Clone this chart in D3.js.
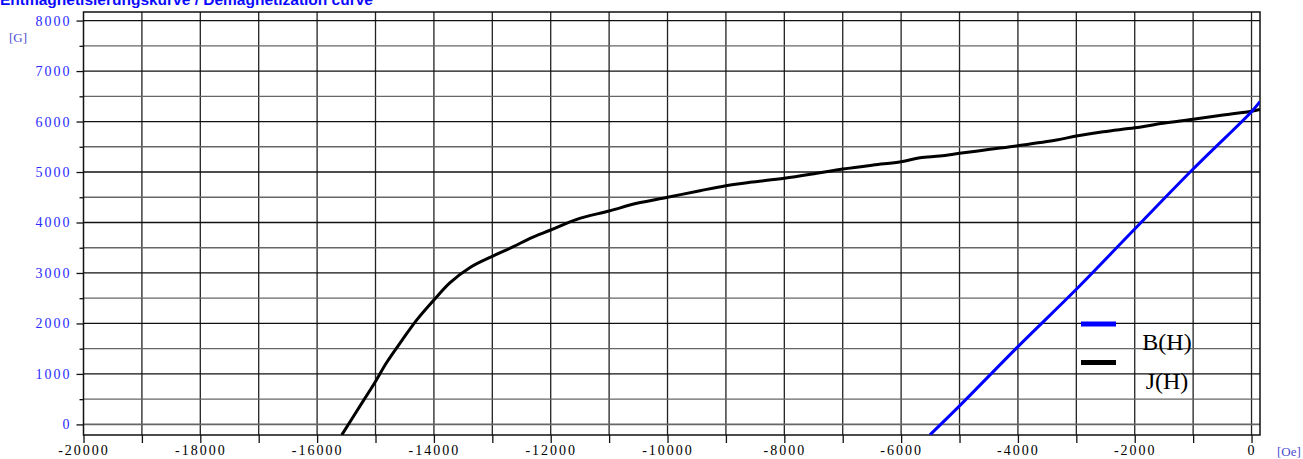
<!DOCTYPE html>
<html>
<head>
<meta charset="utf-8">
<script src="https://cdn.jsdelivr.net/npm/d3@7"></script>
<style>
  html, body { margin: 0; padding: 0; background: #fff; }
  svg { display: block; }
</style>
</head>
<body>
<div id="chart"></div>
<script>
// J(H) curve (H in Oe, J in G)
const jH = [-15577, -15207, -15000, -14807, -14550, -14293, -14000, -13723, -13380, -13000,
  -12640, -12353, -12000, -11553, -11000, -10526, -10000, -9444, -9000, -8588, -8000, -7445,
  -7000, -6477, -6000, -5677, -5335, -5000, -4480, -4000, -3338, -3000, -2540, -2000, -1513,
  -1000, -486, 0, 144];
const jJ = [-208, 470, 850, 1230, 1660, 2070, 2465, 2810, 3110, 3330,
  3520, 3687, 3851, 4063, 4228, 4380, 4499, 4630, 4729, 4796, 4875, 4974,
  5059, 5139, 5204, 5284, 5317, 5370, 5449, 5521, 5634, 5713, 5798, 5877, 5964,
  6044, 6129, 6205, 6241];

// B(H) line
const bH = [-5507, -5000, -4000, -3000, -2000, -1000, 0, 144];
const bB = [-208, 366, 1541, 2677, 3871, 5059, 6195, 6392];

const xTicks = d3.range(-20000, 1, 2000);
const xMinor = d3.range(-20000, 1, 1000);
const yTicks = d3.range(0, 8001, 1000);
const yMinor = d3.range(500, 8000, 1000);

const title = "Entmagnetisierungskurve / Demagnetization curve";
const legendItems = [
  { name: "B(H)", color: "#0000ff" },
  { name: "J(H)", color: "#000000" }
];

(function () {
  const width = 1303, height = 459;
  const plotLeft = 83.5, plotRight = 1260, plotTop = 12, plotBottom = 435;
  const serif = "'Liberation Serif', 'Times New Roman', serif";
  const labelBlue = "#2a2aff";

  const svg = d3.select("#chart").append("svg")
    .attr("width", width)
    .attr("height", height);

  const x = d3.scaleLinear().domain([-20000, 145]).range([plotLeft, plotRight]);
  const y = d3.scaleLinear().domain([-210, 8170]).range([plotBottom, plotTop]);

  // grid
  const grid = svg.append("g");
  grid.selectAll(".vgrid")
    .data(xMinor.filter(d => d > -20000))
    .enter().append("line")
    .attr("x1", d => x(d)).attr("x2", d => x(d))
    .attr("y1", plotTop).attr("y2", plotBottom)
    .attr("stroke", "#222").attr("stroke-width", 1.3);
  grid.selectAll(".hgrid")
    .data(yTicks.concat(yMinor))
    .enter().append("line")
    .attr("x1", plotLeft).attr("x2", plotRight)
    .attr("y1", d => y(d)).attr("y2", d => y(d))
    .attr("stroke", d => (d % 1000 === 0 && d !== 0) ? "#111" : "#666")
    .attr("stroke-width", d => d === 0 ? 1.8 : 1.3);

  // frame
  svg.append("rect")
    .attr("x", plotLeft).attr("y", plotTop)
    .attr("width", plotRight - plotLeft).attr("height", plotBottom - plotTop)
    .attr("fill", "none").attr("stroke", "#111").attr("stroke-width", 1.5);

  // x axis
  const xAxis = d3.axisBottom(x)
    .tickValues(xMinor)
    .tickSize(8)
    .tickFormat(d => (xTicks.includes(d) ? String(d) : ""));
  const gx = svg.append("g")
    .attr("transform", `translate(0,${plotBottom})`)
    .call(xAxis);
  gx.select(".domain").remove();
  gx.selectAll(".tick line").attr("stroke", "#111").attr("stroke-width", 1.3);
  gx.selectAll(".tick text")
    .attr("y", 10)
    .attr("fill", "#000")
    .style("font-family", serif)
    .style("font-size", "14px")
    .style("letter-spacing", "2px");

  // y axis
  const yAxis = d3.axisLeft(y)
    .tickValues(yTicks.concat(yMinor))
    .tickSize(7)
    .tickFormat(d => (yTicks.includes(d) ? String(d) : ""));
  const gy = svg.append("g")
    .attr("transform", `translate(${plotLeft},0)`)
    .call(yAxis);
  gy.select(".domain").remove();
  gy.selectAll(".tick line")
    .attr("x2", d => (yTicks.includes(d) ? -7 : -4))
    .attr("stroke", "#111").attr("stroke-width", 1.3);
  gy.selectAll(".tick text")
    .attr("x", -12)
    .attr("fill", labelBlue)
    .style("font-family", serif)
    .style("font-size", "14px")
    .style("letter-spacing", "2px");

  // unit labels
  svg.append("text")
    .attr("x", 9).attr("y", 42)
    .attr("fill", "#4b4bd0")
    .style("font-family", serif).style("font-size", "13px")
    .text("[G]");
  svg.append("text")
    .attr("x", 1277).attr("y", 456)
    .attr("fill", "#4b4bd0")
    .style("font-family", serif).style("font-size", "13px")
    .text("[Oe]");

  // title (cut off at the top as in the original)
  svg.append("text")
    .attr("x", 0).attr("y", 5)
    .attr("fill", "#0a0aff")
    .style("font-family", "'Liberation Sans', Arial, sans-serif")
    .style("font-weight", "bold")
    .style("font-size", "15.5px")
    .text(title);

  // curves
  svg.append("defs").append("clipPath").attr("id", "plot-clip")
    .append("rect")
    .attr("x", plotLeft).attr("y", plotTop)
    .attr("width", plotRight - plotLeft).attr("height", plotBottom - plotTop);

  const line = d3.line()
    .x(d => x(d[0]))
    .y(d => y(d[1]))
    .curve(d3.curveCatmullRom.alpha(0.5));

  const curves = svg.append("g").attr("clip-path", "url(#plot-clip)");
  curves.append("path")
    .datum(jH.map((h, i) => [h, jJ[i]]))
    .attr("d", line)
    .attr("fill", "none")
    .attr("stroke", "#000")
    .attr("stroke-width", 3);
  curves.append("path")
    .datum(bH.map((h, i) => [h, bB[i]]))
    .attr("d", line)
    .attr("fill", "none")
    .attr("stroke", "#0000ff")
    .attr("stroke-width", 3);

  // legend
  const legend = svg.append("g");
  legendItems.forEach((item, i) => {
    const ly = 324 + i * 38.5;
    legend.append("line")
      .attr("x1", 1081).attr("x2", 1116)
      .attr("y1", ly).attr("y2", ly)
      .attr("stroke", item.color).attr("stroke-width", 5);
    legend.append("text")
      .attr("x", 1167).attr("y", ly + 26)
      .attr("text-anchor", "middle")
      .attr("fill", "#000")
      .style("font-family", serif)
      .style("font-size", "24px")
      .text(item.name);
  });
})();
</script>
</body>
</html>
